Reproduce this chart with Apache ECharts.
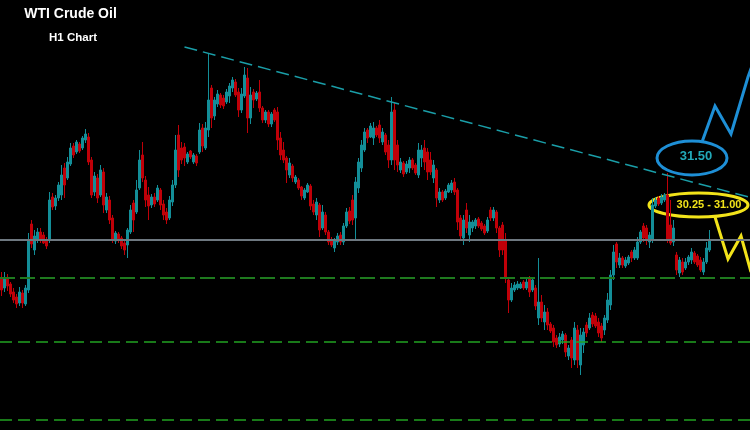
<!DOCTYPE html>
<html>
<head>
<meta charset="utf-8">
<script src="https://cdn.jsdelivr.net/npm/echarts@6/dist/echarts.min.js"></script>
<style>
html,body{margin:0;padding:0;background:#000;}
#chart{width:750px;height:430px;}
</style>
</head>
<body>
<div id="chart"></div>
<script>
// Hourly WTI candles: [open, close, low, high]
const candles = [
[30.22,30.10,30.04,30.28],[30.12,30.22,30.08,30.28],[30.22,30.14,30.09,30.26],[30.16,30.06,30.03,30.18],
[30.08,30.00,29.97,30.12],[30.03,29.96,29.92,30.06],[29.97,30.08,29.94,30.13],[30.07,29.97,29.92,30.10],
[29.96,30.12,29.94,30.15],[30.10,30.60,30.07,30.67],[30.76,30.56,30.52,30.80],[30.50,30.64,30.45,30.70],
[30.60,30.68,30.57,30.72],[30.68,30.60,30.57,30.72],[30.65,30.57,30.56,30.68],[30.60,30.54,30.51,30.63],
[30.60,31.00,30.57,31.08],[31.03,30.93,30.90,31.07],[30.94,31.02,30.90,31.05],[31.02,31.15,30.99,31.18],
[31.05,31.25,31.00,31.35],[31.32,31.15,31.02,31.37],[31.22,31.38,31.20,31.43],[31.36,31.52,31.34,31.57],
[31.54,31.45,31.42,31.57],[31.48,31.58,31.46,31.60],[31.56,31.49,31.47,31.58],[31.52,31.62,31.50,31.64],
[31.60,31.66,31.57,31.71],[31.63,31.38,31.35,31.67],[31.40,31.05,31.02,31.43],[31.08,31.24,31.04,31.28],
[31.22,31.02,30.97,31.26],[31.05,31.30,31.03,31.35],[31.28,30.95,30.87,31.32],[30.90,31.03,30.87,31.07],
[31.00,30.80,30.76,31.04],[30.82,30.60,30.57,30.85],[30.59,30.67,30.56,30.69],[30.66,30.60,30.57,30.68],
[30.62,30.54,30.51,30.64],[30.57,30.50,30.45,30.60],[30.55,30.70,30.42,30.72],[30.68,30.90,30.66,30.95],
[30.97,30.80,30.68,31.00],[30.88,31.10,30.86,31.20],[31.12,31.40,31.10,31.50],[31.45,31.22,31.18,31.58],
[31.20,31.00,30.93,31.24],[31.05,30.94,30.80,31.13],[30.95,31.03,30.92,31.06],[31.03,30.96,30.93,31.07],
[31.00,31.12,30.98,31.15],[31.10,30.95,30.90,31.12],[30.96,30.85,30.80,31.00],[30.88,30.80,30.76,30.92],
[30.82,31.00,30.80,31.04],[30.98,31.15,30.94,31.20],[31.15,31.50,31.12,31.65],[31.65,31.30,31.23,31.75],
[31.52,31.40,31.36,31.58],[31.53,31.42,31.34,31.57],[31.38,31.46,31.36,31.48],[31.49,31.43,31.41,31.50],
[31.38,31.45,31.36,31.47],[31.44,31.37,31.34,31.46],[31.48,31.70,31.46,31.77],[31.72,31.54,31.48,31.76],
[31.52,31.72,31.50,31.78],[31.70,32.00,31.63,32.47],[32.12,31.82,31.72,32.15],[31.84,32.00,31.80,32.03],
[31.96,32.06,31.93,32.10],[32.05,31.95,31.92,32.07],[32.02,31.94,31.91,32.05],[31.98,32.08,31.96,32.11],
[32.04,32.14,31.97,32.17],[32.12,32.20,32.08,32.23],[32.18,32.05,32.03,32.21],[32.08,31.90,31.83,32.12],
[31.90,32.06,31.87,32.12],[32.04,32.25,32.02,32.33],[32.22,31.82,31.67,32.32],[31.82,32.05,31.76,32.13],
[32.08,32.00,31.92,32.11],[32.01,32.07,31.99,32.09],[32.08,31.92,31.88,32.20],[31.92,31.80,31.77,31.94],
[31.80,31.88,31.77,31.90],[31.88,31.76,31.73,31.90],[31.76,31.86,31.73,31.88],[31.90,31.80,31.78,31.92],
[31.88,31.60,31.50,31.93],[31.62,31.45,31.40,31.68],[31.50,31.40,31.37,31.58],[31.42,31.30,31.17,31.44],
[31.25,31.37,31.22,31.42],[31.34,31.22,31.18,31.36],[31.18,31.23,31.16,31.25],[31.20,31.12,31.10,31.22],
[31.13,31.04,31.00,31.14],[31.02,31.10,31.00,31.12],[31.08,31.15,31.07,31.17],[31.14,30.94,30.90,31.16],
[30.96,30.88,30.85,31.00],[30.85,30.98,30.80,31.02],[30.95,30.70,30.63,30.97],[30.72,30.88,30.70,30.95],
[30.85,30.68,30.65,30.88],[30.68,30.58,30.55,30.70],[30.60,30.55,30.53,30.63],[30.52,30.60,30.48,30.62],
[30.58,30.64,30.55,30.67],[30.65,30.58,30.55,30.68],[30.58,30.74,30.55,30.77],[30.74,30.88,30.72,30.92],
[30.89,30.79,30.76,30.93],[31.00,30.80,30.75,31.05],[30.82,31.18,30.60,31.23],[31.12,31.38,31.07,31.42],
[31.32,31.55,31.28,31.60],[31.50,31.68,31.48,31.72],[31.70,31.62,31.57,31.72],[31.63,31.74,31.62,31.77],
[31.62,31.72,31.55,31.78],[31.72,31.65,31.63,31.74],[31.75,31.62,31.57,31.80],[31.58,31.68,31.55,31.72],
[31.65,31.48,31.45,31.67],[31.55,31.40,31.32,31.60],[31.40,31.88,31.35,32.03],[31.90,31.40,31.30,31.97],
[31.55,31.35,31.28,31.60],[31.30,31.38,31.27,31.42],[31.37,31.26,31.23,31.39],[31.28,31.36,31.26,31.39],
[31.32,31.40,31.27,31.43],[31.40,31.32,31.30,31.42],[31.35,31.27,31.25,31.37],[31.25,31.50,31.22,31.57],
[31.42,31.50,31.33,31.55],[31.52,31.38,31.30,31.60],[31.48,31.28,31.20,31.52],[31.40,31.28,31.25,31.48],
[31.22,31.35,31.17,31.40],[31.30,31.02,30.93,31.32],[31.00,31.08,30.97,31.12],[31.08,31.00,30.98,31.10],
[31.02,31.09,31.00,31.11],[31.08,31.15,31.07,31.17],[31.10,31.17,31.07,31.20],[31.18,31.08,31.05,31.22],
[31.10,30.78,30.70,31.12],[30.82,30.64,30.60,30.85],[30.62,30.80,30.55,30.85],[30.90,30.72,30.67,30.97],
[30.65,30.78,30.58,30.85],[30.72,30.78,30.68,30.80],[30.74,30.80,30.71,30.82],[30.81,30.74,30.72,30.83],
[30.77,30.71,30.69,30.79],[30.74,30.67,30.65,30.76],[30.69,30.80,30.67,30.83],[30.90,30.82,30.79,30.93],
[30.82,30.90,30.79,30.93],[30.88,30.72,30.67,30.90],[30.72,30.50,30.43,30.74],[30.75,30.50,30.45,30.78],
[30.60,30.22,30.17,30.67],[30.20,30.00,29.87,30.22],[30.00,30.12,29.98,30.17],[30.10,30.15,30.08,30.18],
[30.12,30.16,30.10,30.19],[30.12,30.16,30.11,30.18],[30.18,30.12,30.10,30.20],[30.12,30.18,30.10,30.22],
[30.22,30.08,30.03,30.24],[30.10,30.20,30.08,30.22],[30.12,29.94,29.90,30.15],[29.82,29.98,29.75,30.42],
[29.98,29.82,29.78,30.05],[29.78,29.88,29.70,29.95],[29.88,29.75,29.70,29.92],[29.76,29.69,29.67,29.78],
[29.72,29.58,29.53,29.75],[29.62,29.55,29.52,29.65],[29.56,29.63,29.53,29.67],[29.60,29.66,29.56,29.69],
[29.65,29.48,29.43,29.67],[29.44,29.52,29.40,29.55],[29.60,29.42,29.32,29.63],[29.40,29.72,29.35,29.78],
[29.70,29.40,29.32,29.75],[29.35,29.65,29.25,29.72],[29.55,29.68,29.47,29.72],[29.75,29.67,29.63,29.78],
[29.72,29.82,29.70,29.87],[29.85,29.76,29.73,29.88],[29.84,29.74,29.72,29.87],[29.78,29.67,29.63,29.82],
[29.74,29.62,29.58,29.77],[29.70,29.82,29.65,29.85],[29.80,30.00,29.77,30.07],[29.95,30.25,29.90,30.30],
[30.25,30.48,30.20,30.55],[30.56,30.38,30.32,30.58],[30.35,30.42,30.32,30.47],[30.42,30.35,30.32,30.44],
[30.34,30.40,30.32,30.43],[30.37,30.43,30.35,30.45],[30.48,30.42,30.38,30.50],[30.42,30.50,30.40,30.53],
[30.42,30.58,30.40,30.63],[30.58,30.68,30.56,30.70],[30.74,30.62,30.58,30.77],[30.72,30.60,30.55,30.75],
[30.58,30.65,30.52,30.68],[30.60,30.95,30.57,31.02],[30.94,31.00,30.92,31.03],[31.02,30.96,30.94,31.04],
[30.97,31.03,30.95,31.06],[31.00,31.05,30.98,31.07],[31.05,30.60,30.57,31.27],[30.75,30.57,30.55,31.00],
[30.58,30.72,30.54,30.80],[30.45,30.30,30.25,30.48],[30.27,30.40,30.23,30.43],[30.38,30.28,30.25,30.42],
[30.32,30.38,30.30,30.42],[30.38,30.43,30.35,30.45],[30.40,30.48,30.36,30.52],[30.47,30.38,30.36,30.49],
[30.44,30.35,30.33,30.46],[30.40,30.30,30.28,30.43],[30.28,30.38,30.25,30.42],[30.38,30.52,30.36,30.58],
[30.50,30.60,30.48,30.70]
];
// total hourly slots on the axis (candles + empty space on the right)
const slotCount = 250;
const categories = [];
for (let i = 0; i < slotCount; i++) categories.push('H' + i);

// horizontal levels
const pivotLevel = 30.60;
const supportLevels = [30.22, 29.58, 28.80];
// descending trend line: [slot index, price]
const trendLine = [[61, 32.53], [249, 31.03]];
const priceMin = 28.70, priceMax = 33.00;

const chart = echarts.init(document.getElementById('chart'), null, {renderer: 'canvas'});
const FONT = '"Liberation Sans", Arial, sans-serif';

const option = {
  backgroundColor: '#000000',
  animation: false,
  grid: {left: 0, right: 0, top: 0, bottom: 0},
  xAxis: {type: 'category', data: categories, show: false, boundaryGap: true},
  yAxis: {type: 'value', min: priceMin, max: priceMax, show: false, splitLine: {show: false}},
  series: [{
    type: 'candlestick',
    data: candles,
    barWidth: 2,
    itemStyle: {
      color: '#138e98', color0: '#c00008',
      borderColor: '#138e98', borderColor0: '#c00008',
      borderWidth: 1
    },
    markLine: {
      silent: true,
      symbol: ['none', 'none'],
      label: {show: false},
      emphasis: {disabled: true},
      data: [
        {yAxis: pivotLevel, lineStyle: {color: '#6e7880', width: 2, type: 'solid'}},
        {yAxis: supportLevels[0], lineStyle: {color: '#1e7a1e', width: 2, type: [15, 5]}},
        {yAxis: supportLevels[1], lineStyle: {color: '#22a322', width: 1.5, type: [12, 6]}},
        {yAxis: supportLevels[2], lineStyle: {color: '#22a322', width: 1.5, type: [12, 6]}},
        [{coord: trendLine[0]}, {coord: trendLine[1], lineStyle: {color: '#1a9ea8', width: 1.5, type: [13, 6]}}]
      ]
    }
  }],
  graphic: [
    {type: 'text', x: 70.5, y: 14, style: {text: 'WTI Crude Oil', fill: '#ffffff', font: 'bold 14px ' + FONT, textAlign: 'center', textVerticalAlign: 'middle'}},
    {type: 'text', x: 73, y: 37.5, style: {text: 'H1 Chart', fill: '#ffffff', font: 'bold 11.5px ' + FONT, textAlign: 'center', textVerticalAlign: 'middle'}},
    {type: 'polyline', shape: {points: [[702, 142], [715, 106], [731, 134], [748, 77], [752, 66]]}, style: {stroke: '#1e8fd6', lineWidth: 3, fill: null}},
    {type: 'ellipse', shape: {cx: 692, cy: 158, rx: 35, ry: 17}, style: {stroke: '#1e8fd6', lineWidth: 3, fill: null}},
    {type: 'text', x: 696, y: 156, style: {text: '31.50', fill: '#22a9b8', font: 'bold 13px ' + FONT, textAlign: 'center', textVerticalAlign: 'middle'}},
    {type: 'polyline', shape: {points: [[715, 217], [728, 259], [741, 236], [751, 272]]}, style: {stroke: '#f2e31a', lineWidth: 3, fill: null}},
    {type: 'ellipse', shape: {cx: 698.5, cy: 205, rx: 49.5, ry: 12}, style: {stroke: '#f2e31a', lineWidth: 3, fill: null}},
    {type: 'text', x: 709, y: 204.5, style: {text: '30.25 - 31.00', fill: '#f2e31a', font: 'bold 11px ' + FONT, textAlign: 'center', textVerticalAlign: 'middle'}}
  ]
};
chart.setOption(option);
</script>
</body>
</html>
